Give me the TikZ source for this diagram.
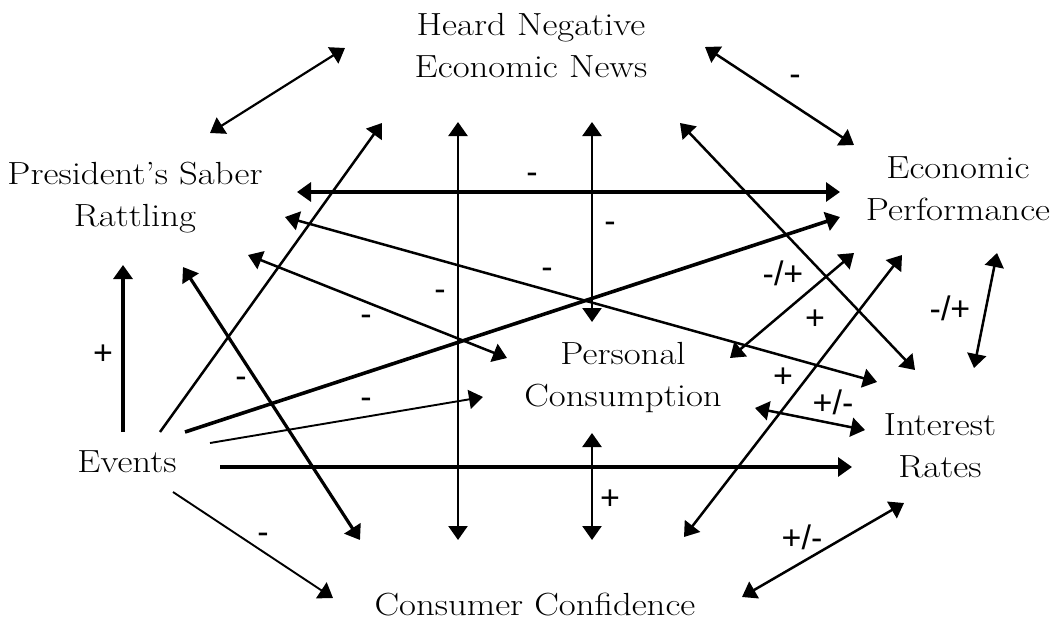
\documentclass[tikz,border=0pt]{standalone}
\usepackage{fontspec}
\newfontfamily\lblfont{Liberation Sans}
\newfontfamily\cfont{Latin Modern Roman}[FakeStretch=1.15,Ligatures=TeX]
\usetikzlibrary{arrows.meta}
\begin{document}
\begin{tikzpicture}[x=0.5pt,y=-0.5pt,
  concept/.style={font=\cfont\fontsize{16}{21}\selectfont, align=center, inner sep=0pt},
  lbl/.style={font=\lblfont\fontsize{17}{19}\selectfont, inner sep=0pt},
  conn/.style={line width=1.25pt, -{Triangle[length=7pt,width=9.5pt]}},
  dconn/.style={line width=1.25pt, {Triangle[length=7pt,width=9.5pt]}-{Triangle[length=7pt,width=9.5pt]}},
  thinline/.style={line width=0.95pt},
  thickline/.style={line width=1.6pt}]
\useasboundingbox (0,0) rectangle (1064,621);
\fill[white] (0,0) rectangle (1064,621);

% concepts
\node[concept] (heard) at (531,46) {Heard Negative\\Economic News};
\node[concept] (saber) at (135,198) {President’s Saber\\Rattling};
\node[concept] (econ) at (958,189) {Economic\\Performance};
\node[concept] (pers) at (623,378) {Personal\\Consumption};
\node[concept] (inter) at (940,446) {Interest\\Rates};
\node[concept, anchor=base] (events) at (127,472) {Events};
\node[concept, anchor=base] (conf) at (535,615) {Consumer Confidence};

% connector end points
\coordinate (a1s) at (210,133); \coordinate (a1e) at (345,48);
\coordinate (a2s) at (705,47);  \coordinate (a2e) at (854,145);
\coordinate (a3s) at (297,192); \coordinate (a3e) at (840,192);
\coordinate (a4s) at (458,122); \coordinate (a4e) at (458,540);
\coordinate (a5s) at (592,122); \coordinate (a5e) at (592,322);
\coordinate (a6s) at (592,433); \coordinate (a6e) at (592,540);
\coordinate (a7s) at (123,432); \coordinate (a7e) at (123,265);
\coordinate (a8s) at (183,267); \coordinate (a8e) at (360,540);
\coordinate (a9s) at (160,432); \coordinate (a9e) at (382,123);
\coordinate (a10s) at (248,255); \coordinate (a10e) at (507,358);
\coordinate (a11s) at (285,217); \coordinate (a11e) at (877,382);
\coordinate (a12s) at (185,432); \coordinate (a12e) at (840,217);
\coordinate (a13s) at (210,443); \coordinate (a13e) at (483,397);
\coordinate (a14s) at (220,467); \coordinate (a14e) at (852,467);
\coordinate (a15s) at (173,492); \coordinate (a15e) at (333,598);
\coordinate (a16s) at (680,123); \coordinate (a16e) at (915,370);
\coordinate (a17s) at (854,253); \coordinate (a17e) at (730,358);
\coordinate (a18s) at (902,255); \coordinate (a18e) at (684,537);
\coordinate (a19s) at (997,253); \coordinate (a19e) at (974,368);
\coordinate (a20s) at (755,408); \coordinate (a20e) at (865,430);
\coordinate (a21s) at (742,597); \coordinate (a21e) at (904,503);

% connectors
\draw[dconn, line width=1.1pt] (a1s) -- (a1e);
\draw[dconn] (a2s) -- (a2e);
\draw[dconn, thickline] (a3s) -- (a3e);
\draw[dconn] (a4s) -- (a4e);
\draw[dconn] (a5s) -- (a5e);
\draw[dconn] (a6s) -- (a6e);
\draw[conn, thickline] (a7s) -- (a7e);
\draw[dconn, thickline] (a8s) -- (a8e);
\draw[conn] (a9s) -- (a9e);
\draw[dconn] (a10s) -- (a10e);
\draw[dconn] (a11s) -- (a11e);
\draw[conn, line width=1.8pt] (a12s) -- (a12e);
\draw[conn, thinline] (a13s) -- (a13e);
\draw[conn, thickline] (a14s) -- (a14e);
\draw[conn, thinline] (a15s) -- (a15e);
\draw[dconn] (a16s) -- (a16e);
\draw[dconn] (a17s) -- (a17e);
\draw[dconn] (a18s) -- (a18e);
\draw[dconn] (a19s) -- (a19e);
\draw[dconn] (a20s) -- (a20e);
\draw[dconn] (a21s) -- (a21e);

% labels
\node[lbl] (l2) at (795,80) {-};
\node[lbl] (l3) at (532,178) {-};
\node[lbl] (l5) at (610,227) {-};
\node[lbl] (l11) at (547,273) {-};
\node[lbl] (l4) at (440,295) {-};
\node[lbl] (l10) at (366,320) {-};
\node[lbl] (l8) at (241,382) {-};
\node[lbl] (l13) at (366,403) {-};
\node[lbl] (l15) at (263,538) {-};
\node[lbl] (l7) at (103,355) {+};
\node[lbl] (l6) at (610,500) {+};
\node[lbl] (l17a) at (783,273) {-/+};
\node[lbl] (l17b) at (815,320) {+};
\node[lbl] (l18) at (783,378) {+};
\node[lbl] (l20) at (833,402) {+/-};
\node[lbl] (l19) at (950,308) {-/+};
\node[lbl] (l21) at (802,537) {+/-};
\end{tikzpicture}
\end{document}
